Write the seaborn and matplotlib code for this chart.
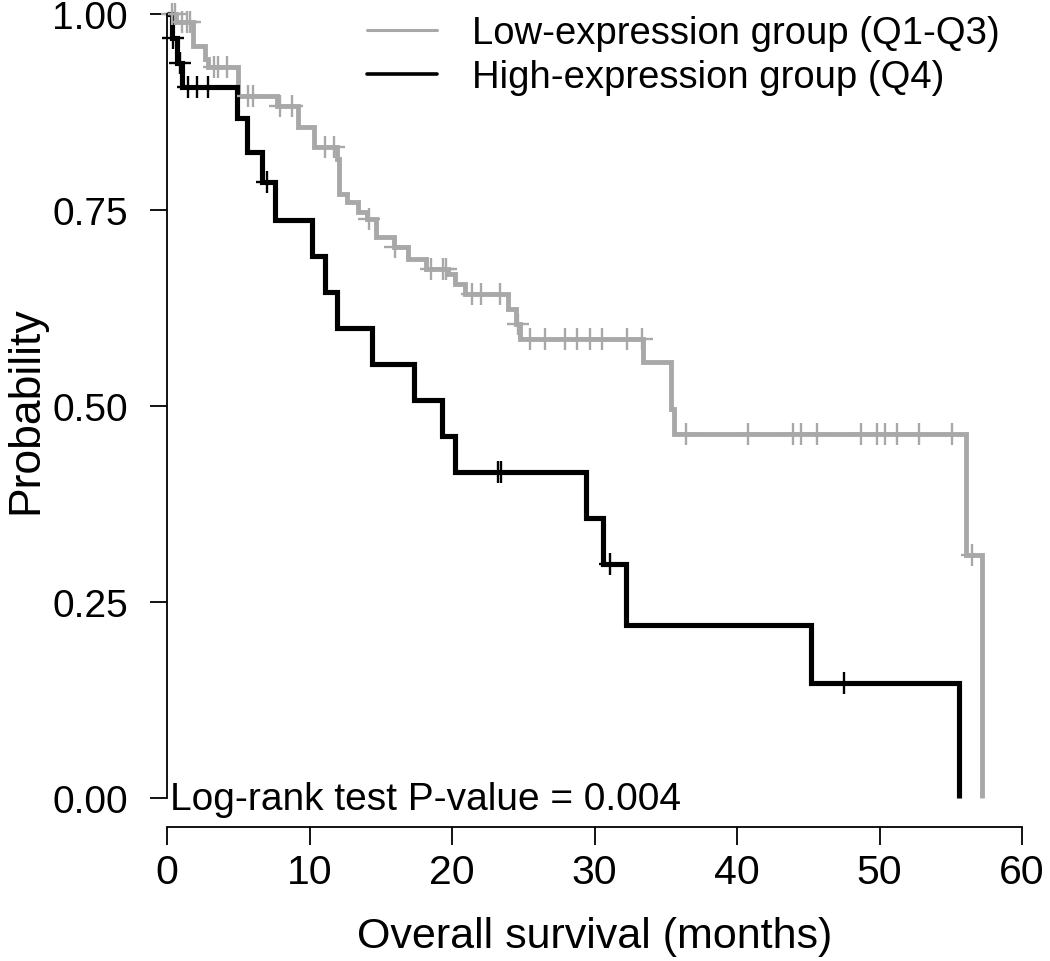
import numpy as np
import pandas as pd
import matplotlib
matplotlib.use("Agg")
import matplotlib.pyplot as plt
from matplotlib.lines import Line2D
import seaborn as sns

# ---- data ----
low_label = "Low-expression group (Q1-Q3)"
high_label = "High-expression group (Q4)"

low_time = [0, 0.6, 1.8, 2.7, 2.9, 5.0, 7.7, 9.2, 10.3, 11.9, 12.1, 12.6, 13.4, 14.0,
            14.7, 15.9, 16.9, 18.2, 19.7, 20.2, 20.9, 23.9, 24.5, 24.8, 33.4, 35.4,
            35.6, 56.1, 57.2]
low_surv = [1.0, 0.99, 0.959, 0.943, 0.932, 0.895, 0.883, 0.856, 0.830, 0.815, 0.770,
            0.760, 0.747, 0.739, 0.716, 0.703, 0.688, 0.675, 0.668, 0.656, 0.643, 0.624,
            0.605, 0.585, 0.556, 0.496, 0.464, 0.310, 0.0]
low_censor = [0.35, 0.55, 1.05, 1.4, 1.6, 3.3, 3.6, 4.2, 5.7, 6.0, 7.9, 8.8, 11.1, 11.7,
              14.2, 16.0, 18.5, 19.4, 19.6, 21.4, 22.0, 23.4, 24.6, 25.5, 26.5, 27.9,
              28.8, 29.7, 30.5, 32.3, 33.3, 36.4, 40.8, 43.9, 44.5, 45.6, 48.7, 49.8,
              50.4, 51.2, 52.8, 55.1, 56.5]

high_time = [0, 0.35, 0.7, 1.05, 4.9, 5.6, 6.65, 7.6, 10.2, 11.1, 11.9, 14.4, 17.3,
             19.3, 20.2, 29.4, 30.6, 32.2, 45.2, 55.6]
high_surv = [1.0, 0.969, 0.938, 0.907, 0.867, 0.824, 0.786, 0.737, 0.691, 0.645, 0.599,
             0.554, 0.508, 0.462, 0.416, 0.357, 0.298, 0.221, 0.147, 0.0]
high_censor = [0.4, 0.9, 1.5, 2.1, 2.9, 7.0, 23.2, 23.45, 31.1, 47.5]

x_ticks = [0, 10, 20, 30, 40, 50, 60]
y_ticks = [0.0, 0.25, 0.5, 0.75, 1.0]
y_ticklabels = ["0.00", "0.25", "0.50", "0.75", "1.00"]
p_text = "Log-rank test P-value = 0.004"

GREY = "#a8a8a8"
BLACK = "#000000"

sns.set_theme(style="ticks")
plt.rcParams["font.family"] = ["Liberation Sans", "DejaVu Sans"]
plt.rcParams["text.color"] = "black"
plt.rcParams["axes.labelcolor"] = "black"
plt.rcParams["xtick.color"] = "black"
plt.rcParams["ytick.color"] = "black"

W, H = 1050, 962
fig = plt.figure(figsize=(W / 100, H / 100), dpi=100)
L, R, T, B = 167, 1022, 15, 799
ax = fig.add_axes([L / W, 1 - B / H, (R - L) / W, (B - T) / H])


def step_lookup(times, surv, t):
    idx = np.searchsorted(np.asarray(times), t, side="right") - 1
    return np.asarray(surv)[idx]


df_low = pd.DataFrame({"time": low_time, "surv": low_surv})
df_high = pd.DataFrame({"time": high_time, "surv": high_surv})

for df, col, lw in [(df_low, GREY, 3.5), (df_high, BLACK, 3.7)]:
    sns.lineplot(data=df, x="time", y="surv", drawstyle="steps-post", color=col,
                 linewidth=lw, estimator=None, sort=False, ax=ax, clip_on=False,
                 solid_joinstyle="miter", solid_capstyle="butt")

cen_low = pd.DataFrame({"time": low_censor,
                        "surv": step_lookup(low_time, low_surv, low_censor)})
cen_high = pd.DataFrame({"time": high_censor,
                         "surv": step_lookup(high_time, high_surv, high_censor)})
sns.scatterplot(data=cen_low, x="time", y="surv", marker="+", s=250, color=GREY,
                linewidth=1.7, ax=ax, clip_on=False, zorder=2)
sns.scatterplot(data=cen_high, x="time", y="surv", marker="+", s=250, color=BLACK,
                linewidth=1.7, ax=ax, clip_on=False, zorder=4)

ax.set_xlim(0, 60)
ax.set_ylim(0, 1)
ax.set_xticks(x_ticks)
ax.set_yticks(y_ticks)
ax.set_yticklabels(y_ticklabels)
ax.set_xlabel("")
ax.set_ylabel("")

for s in ["top", "right"]:
    ax.spines[s].set_visible(False)
ax.spines["left"].set_bounds(0, 1)
ax.spines["bottom"].set_bounds(0, 60)
ax.spines["bottom"].set_position(("outward", 29 * 0.72))
for s in ["left", "bottom"]:
    ax.spines[s].set_linewidth(1.3)
    ax.spines[s].set_color("black")

ax.tick_params(axis="y", length=12.2, width=1.3, pad=16, labelsize=28, colors="black")
ax.tick_params(axis="x", length=13, width=1.3, pad=6, labelsize=29.5, colors="black")

fig.text(26 / W, 1 - 410 / H, "Probability", rotation=90, ha="center", va="center",
         fontsize=32, color="black")
fig.text((L + R) / 2 / W, 1 - 937 / H, "Overall survival (months)", ha="center",
         va="center", fontsize=31, color="black")
fig.text(170 / W, 1 - 810 / H, p_text, ha="left", va="baseline", fontsize=28,
         color="black")

handles = [Line2D([0], [0], color=GREY, lw=2.2), Line2D([0], [0], color=BLACK, lw=2.6)]
leg = ax.legend(handles, [low_label, high_label], frameon=False, loc="upper left",
                bbox_to_anchor=(367 / W, 1 - 16 / H), bbox_transform=fig.transFigure,
                fontsize=27.5, handlelength=1.83, handletextpad=0.92, borderpad=0,
                borderaxespad=0, labelspacing=0.22)
for t in leg.get_texts():
    t.set_color("black")

fig.savefig("out.png", dpi=100)
